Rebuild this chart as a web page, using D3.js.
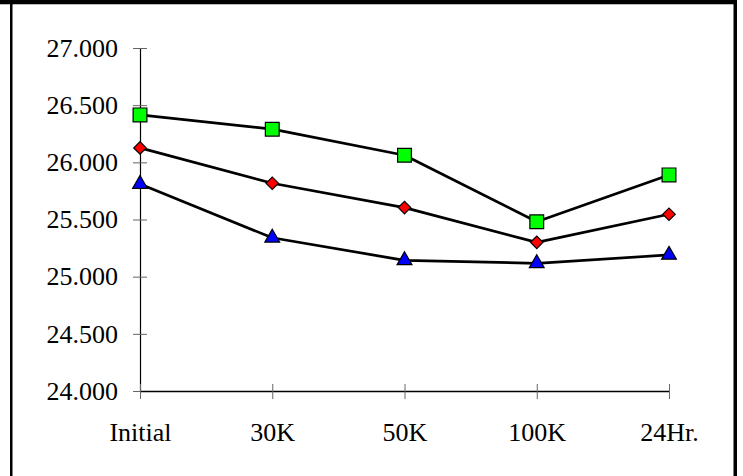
<!DOCTYPE html>
<html>
<head>
<meta charset="utf-8">
<script src="https://cdn.jsdelivr.net/npm/d3@7"></script>
<style>
html,body{margin:0;padding:0;background:#fff;}
svg{display:block;}
svg text{font-family:'Liberation Serif','Times New Roman',Times,serif;}
</style>
</head>
<body>
<svg id="chart" width="743" height="476"></svg>
<script>
const categories = ["Initial", "30K", "50K", "100K", "24Hr."];
const greenSquares = [26.415, 26.29, 26.062, 25.48, 25.89];
const redDiamonds = [26.126, 25.817, 25.604, 25.30, 25.546];
const blueTriangles = [25.81, 25.34, 25.143, 25.117, 25.19];
const yTicks = [24.0, 24.5, 25.0, 25.5, 26.0, 26.5, 27.0];

const svg = d3.select("#chart");
const W = 743, H = 476;
svg.append("rect").attr("width", W).attr("height", H).attr("fill", "#fff");

// outer frame
svg.append("rect").attr("x", 0).attr("y", 0).attr("width", 737).attr("height", 4).attr("fill", "#000");
svg.append("rect").attr("x", 0).attr("y", 4).attr("width", 737).attr("height", 1).attr("fill", "#bbb");
svg.append("rect").attr("x", 10).attr("y", 0).attr("width", 2.5).attr("height", H).attr("fill", "#000");
svg.append("rect").attr("x", 733.5).attr("y", 0).attr("width", 3.5).attr("height", H).attr("fill", "#000");

const x = d3.scalePoint().domain(categories).range([140, 669]).padding(0);
const y = d3.scaleLinear().domain([24, 27]).range([391, 48]);

const font = "'Liberation Serif','Times New Roman',Times,serif";

// Y axis
const yAxis = svg.append("g").attr("transform", "translate(140,0)")
  .call(d3.axisLeft(y).tickValues(yTicks).tickSize(0).tickPadding(22).tickFormat(d3.format(".3f")));
yAxis.attr("font-family", font).attr("font-size", 26);
yAxis.select(".domain").attr("stroke", "#000").attr("stroke-width", 1.2);
yAxis.selectAll("text").style("font-family", font).style("font-size", "26px").attr("fill", "#000");
yAxis.selectAll(".tick").append("line").attr("x1", -7).attr("x2", 7).attr("stroke", "#666").attr("stroke-width", 1);

// X axis
const xAxis = svg.append("g").attr("transform", "translate(0,391)")
  .call(d3.axisBottom(x).tickSize(0).tickPadding(32));
xAxis.attr("font-family", font).attr("font-size", 26);
xAxis.select(".domain").attr("stroke", "#000").attr("stroke-width", 1.6);
xAxis.selectAll("text").style("font-family", font).style("font-size", "26px").attr("fill", "#000").attr("dy", "0.71em");
xAxis.selectAll(".tick").append("line").attr("y1", -7).attr("y2", 8).attr("stroke", "#666").attr("stroke-width", 1);

const series = [
  {values: greenSquares, shape: d3.symbolSquare, size: 190, fill: "#00ff00", rot: 0},
  {values: redDiamonds, shape: d3.symbolSquare, size: 78, fill: "#ff0000", rot: 45},
  {values: blueTriangles, shape: d3.symbolTriangle, size: 95, fill: "#0000ff", rot: 0}
];

const line = d3.line().x((d, i) => x(categories[i])).y(d => y(d));

series.forEach(s => {
  svg.append("path").datum(s.values).attr("d", line)
    .attr("fill", "none").attr("stroke", "#000").attr("stroke-width", 2.7)
    .attr("stroke-linejoin", "round");
});
series.forEach(s => {
  svg.append("g").selectAll("path").data(s.values).join("path")
    .attr("transform", (d, i) => `translate(${x(categories[i])},${y(d)}) rotate(${s.rot})`)
    .attr("d", d3.symbol().type(s.shape).size(s.size))
    .attr("fill", s.fill).attr("stroke", "#000").attr("stroke-width", 1.2);
});
</script>
</body>
</html>
